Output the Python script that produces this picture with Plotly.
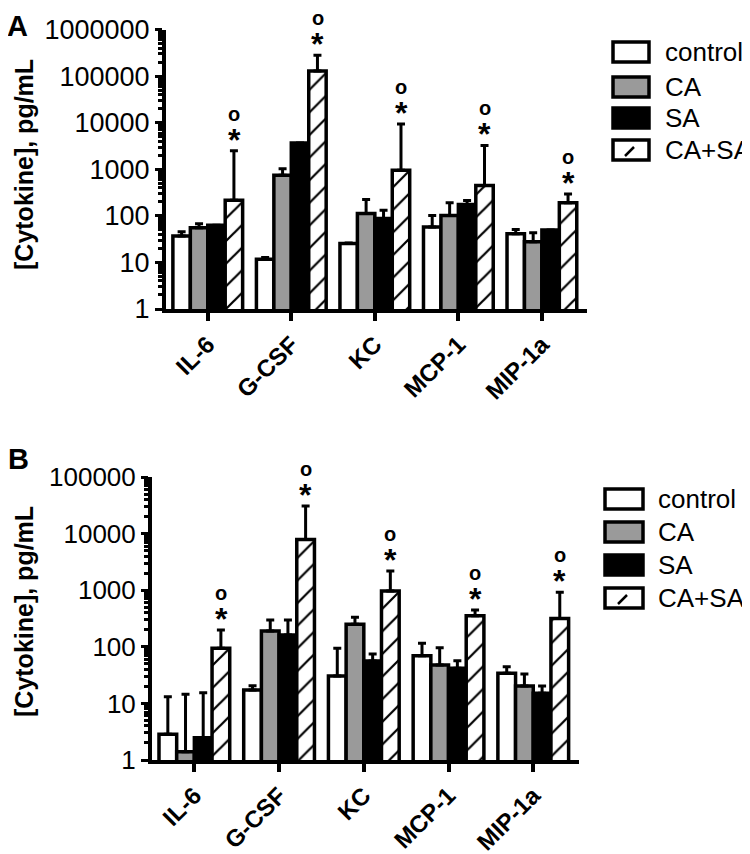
import math
import plotly.graph_objects as go

# ---------------- data ----------------
categories = ["IL-6", "G-CSF", "KC", "MCP-1", "MIP-1a"]
groups = ["control", "CA", "SA", "CA+SA"]

# Panel A: means and upper error-bar ends (mean + SD), pg/mL
a_control = [36.8, 11.7, 25.4, 57.4, 41.4]
a_control_up = [45.8, 12.7, 26.0, 102, 51]
a_ca = [55.6, 741, 112, 102, 27.9]
a_ca_up = [67.8, 1030, 224, 190, 43.5]
a_sa = [63, 3650, 88, 175, 49.4]
a_sa_up = [63, 3650, 132, 213, 49.4]
a_casa = [217, 128000, 947, 446, 190]
a_casa_up = [2500, 281000, 9400, 3240, 296]

# Panel B
b_control = [2.85, 17.3, 30.5, 69.7, 34]
b_control_up = [13.1, 20.5, 94, 115, 44.6]
b_ca = [1.40, 190, 250, 47.7, 20.3]
b_ca_up = [14.5, 298, 332, 96, 33]
b_sa = [2.48, 162, 56, 41.7, 15.1]
b_sa_up = [15.5, 298, 74.5, 56.9, 20.3]
b_casa = [94, 7900, 968, 355, 317]
b_casa_up = [198, 30700, 2180, 446, 918]

# significance marks over CA+SA bars
sig_star = ["*", "*", "*", "*", "*"]
sig_circle = ["o", "o", "o", "o", "o"]

a_ticks = [1, 10, 100, 1000, 10000, 100000, 1000000]
a_ticktext = ["1", "10", "100", "1000", "10000", "100000", "1000000"]
b_ticks = [1, 10, 100, 1000, 10000, 100000]
b_ticktext = ["1", "10", "100", "1000", "10000", "100000"]

# ---------------- style ----------------
OFF = 8  # default page body margin
W, H = 750 - OFF, 854 - OFF
FONT = "Liberation Sans, Arial, sans-serif"
fills = {"control": "white", "CA": "#9a9a9a", "SA": "black", "CA+SA": "white"}


def px(x):
    return (x - OFF) / W


def py(y):
    return 1 - (y - OFF) / H


fig = go.Figure()

panels = [
    ("x", "y", [a_control, a_ca, a_sa, a_casa], [a_control_up, a_ca_up, a_sa_up, a_casa_up]),
    ("x2", "y2", [b_control, b_ca, b_sa, b_casa], [b_control_up, b_ca_up, b_sa_up, b_casa_up]),
]

for xa, ya, means, ups in panels:
    for g, m, u in zip(groups, means, ups):
        marker = dict(color=fills[g], line=dict(color="black", width=3.5))
        if g == "CA+SA":
            marker["pattern"] = dict(shape="/", size=16, solidity=0.14,
                                     fgcolor="black", bgcolor="white", fillmode="replace")
        fig.add_trace(go.Bar(
            x=categories, y=m, name=g, xaxis=xa, yaxis=ya, showlegend=False,
            marker=marker,
            error_y=dict(type="data", symmetric=False,
                         array=[max(uu - mm, 0) for uu, mm in zip(u, m)],
                         arrayminus=[0] * len(m),
                         color="black", thickness=3, width=4),
        ))
    # significance marks over CA+SA (annotation y on log axes is given as log10)
    casa_up = ups[3]
    for i, cat in enumerate(categories):
        xpos = i + 0.315
        ylog = math.log10(casa_up[i])
        fig.add_annotation(x=xpos, y=ylog, xref=xa, yref=ya,
                           text=sig_star[i], showarrow=False, xanchor="center", yanchor="middle",
                           yshift=11, font=dict(family=FONT, size=32, color="black", weight="bold"))
        fig.add_annotation(x=xpos, y=ylog, xref=xa, yref=ya,
                           text=sig_circle[i], showarrow=False, xanchor="center", yanchor="middle",
                           yshift=37, font=dict(family=FONT, size=20, color="black", weight="bold"))


def minor_vals(nd):
    return [k * 10 ** d for d in range(nd) for k in range(2, 10)]


common_y = dict(type="log", showgrid=False, zeroline=False, showline=True,
                linecolor="black", linewidth=4, ticks="outside", ticklen=7,
                tickwidth=3, tickcolor="black", automargin=False)
common_x = dict(type="category", showgrid=False, zeroline=False, showline=True,
                linecolor="black", linewidth=4, ticks="outside", ticklen=8,
                tickwidth=3.5, tickcolor="black", tickangle=-45, automargin=False,
                tickfont=dict(family=FONT, size=24, color="black", weight="bold"),
                range=[-0.5, 4.54])

fig.update_layout(
    width=W, height=H, margin=dict(l=0, r=0, t=0, b=0, autoexpand=False),
    paper_bgcolor="white", plot_bgcolor="white",
    barmode="group", bargap=0.165, bargroupgap=0,
    showlegend=False,
    xaxis=dict(domain=[px(166), px(587)], anchor="y", **common_x),
    yaxis=dict(domain=[py(309), py(29.5)], anchor="x", range=[0, 6],
               tickvals=a_ticks, ticktext=a_ticktext,
               tickfont=dict(family=FONT, size=27, color="black"),
               minor=dict(tickvals=minor_vals(6), ticks="outside", ticklen=4,
                          tickwidth=2.5, tickcolor="black"),
               **common_y),
    xaxis2=dict(domain=[px(152), px(579)], anchor="y2", **common_x),
    yaxis2=dict(domain=[py(760), py(477)], anchor="x2", range=[0, 5],
                tickvals=b_ticks, ticktext=b_ticktext,
                tickfont=dict(family=FONT, size=26, color="black"),
                minor=dict(tickvals=minor_vals(5), ticks="outside", ticklen=4,
                           tickwidth=2.5, tickcolor="black"),
                **common_y),
)

# y-axis titles and panel labels
for yc in (165, 612):
    fig.add_annotation(x=px(24), y=py(yc), xref="paper", yref="paper", text="[Cytokine], pg/mL",
                       textangle=-90, showarrow=False, xanchor="center", yanchor="middle",
                       font=dict(family=FONT, size=25, color="black", weight="bold"))
fig.add_annotation(x=px(17), y=py(26), xref="paper", yref="paper", text="A",
                   showarrow=False, xanchor="center", yanchor="middle",
                   font=dict(family=FONT, size=29, color="black", weight="bold"))
fig.add_annotation(x=px(18), y=py(459), xref="paper", yref="paper", text="B",
                   showarrow=False, xanchor="center", yanchor="middle",
                   font=dict(family=FONT, size=29, color="black", weight="bold"))

# custom legends
legend_specs = [
    (613, 649, 663, [52, 87, 118, 150], 26),
    (605, 643, 656, [499, 532, 565, 598], 26),
]
for bx0, bx1, tx, ys, fs in legend_specs:
    for g, yc in zip(groups, ys):
        fig.add_shape(type="rect", xref="paper", yref="paper",
                      x0=px(bx0), x1=px(bx1), y0=py(yc + 10), y1=py(yc - 10),
                      line=dict(color="black", width=3.5), fillcolor=fills[g])
        if g == "CA+SA":
            cx = (bx0 + bx1) / 2
            fig.add_shape(type="line", xref="paper", yref="paper",
                          x0=px(cx - 6), y0=py(yc + 6), x1=px(cx + 3), y1=py(yc - 3),
                          line=dict(color="black", width=2.5))
        fig.add_annotation(x=px(tx), y=py(yc), xref="paper", yref="paper", text=g,
                           xanchor="left", yanchor="middle", showarrow=False,
                           font=dict(family=FONT, size=fs, color="black"))

fig.write_html("out.html")
